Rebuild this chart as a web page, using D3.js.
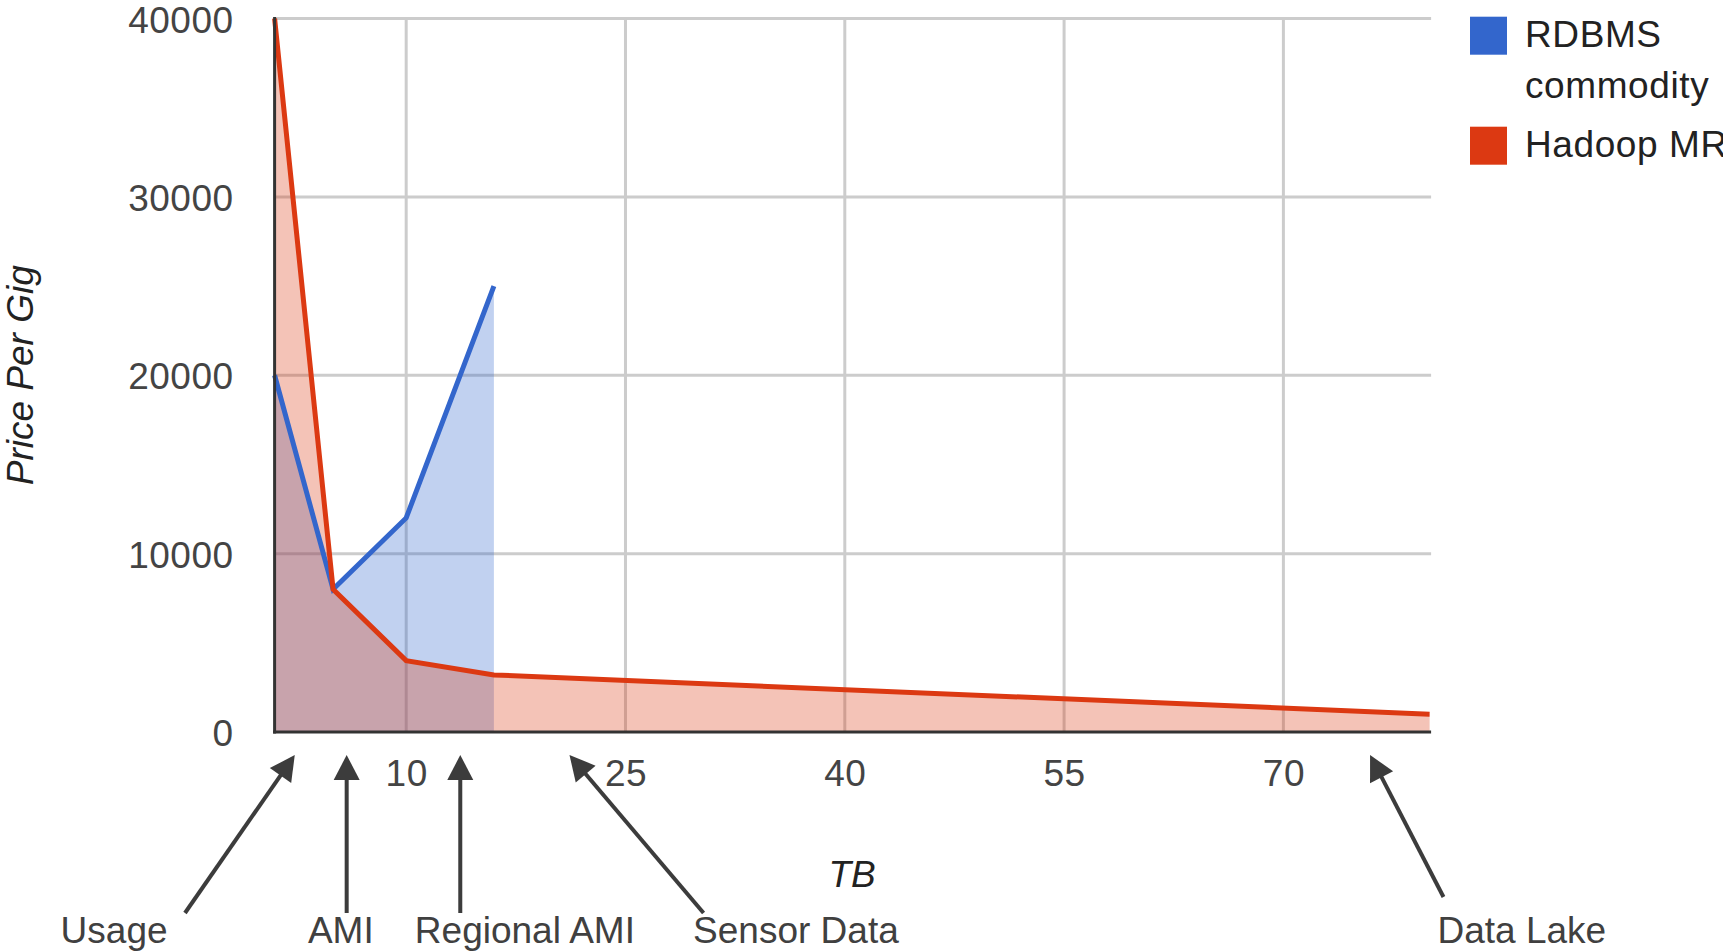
<!DOCTYPE html>
<html>
<head>
<meta charset="utf-8">
<script src="https://cdn.jsdelivr.net/npm/d3@7"></script>
<style>
  body { margin: 0; background: #fff; }
  svg { display: block; font-family: "Liberation Sans", Arial, sans-serif; }
</style>
</head>
<body>
<div id="chart"></div>
<script>
// ---- data ----
const tbValues = [1, 5, 10, 16, 80];                      // TB
const rdbmsValues = [20000, 8000, 12000, 25000, null];    // RDBMS commodity
const hadoopValues = [40000, 8000, 4000, 3200, 1000];     // Hadoop MR
const yTicks = [0, 10000, 20000, 30000, 40000];
const xTicks = [10, 25, 40, 55, 70];
const seriesNames = [["RDBMS", "commodity"], ["Hadoop MR"]];
const seriesColors = ["#3366cc", "#dc3912"];

// call-outs under the x axis (positions in TB units)
const annotationLabels = ["Usage", "AMI", "Regional AMI", "Sensor Data", "Data Lake"];
const annotationTips = [2.38, 5.93, 13.7, 21.17, 75.93];
const annotationTails = [-5.13, 5.93, 13.7, 30.34, 80.95];
const annotationTextAt = [-9.98, 5.53, 18.12, 36.66, 86.31];

class PriceChart {
    constructor(parentId) {
        this.parentElement = document.getElementById(parentId);
        this.width = 1723;
        this.height = 951;
        this.plot = { left: 274.6, right: 1429.6, top: 18.5, bottom: 732 };
        this.initVis();
    }

    initVis() {
        let vis = this;
        vis.svg = d3.select(vis.parentElement).append("svg")
            .attr("width", vis.width)
            .attr("height", vis.height);

        vis.x = d3.scaleLinear().domain([1, 80]).range([vis.plot.left, vis.plot.right]);
        vis.y = d3.scaleLinear().domain([0, 40000]).range([vis.plot.bottom, vis.plot.top]);

        vis.wrangleData();
        vis.updateVis();
    }

    wrangleData() {
        let vis = this;
        vis.series = [rdbmsValues, hadoopValues].map((vals, i) => ({
            name: seriesNames[i],
            color: seriesColors[i],
            points: tbValues.map((tb, j) => ({ tb: tb, v: vals[j] })).filter(d => d.v != null)
        }));
    }

    updateVis() {
        let vis = this;
        const p = vis.plot;

        // gridlines
        vis.svg.append("g").selectAll("line.hgrid")
            .data(yTicks.filter(d => d > 0)).enter().append("line")
            .attr("x1", p.left).attr("x2", p.right + 1.5)
            .attr("y1", d => vis.y(d)).attr("y2", d => vis.y(d))
            .attr("stroke", "#cccccc").attr("stroke-width", 3);
        vis.svg.append("g").selectAll("line.vgrid")
            .data(xTicks).enter().append("line")
            .attr("x1", d => vis.x(d)).attr("x2", d => vis.x(d))
            .attr("y1", p.top).attr("y2", p.bottom)
            .attr("stroke", "#cccccc").attr("stroke-width", 3);

        // areas (blue first, red over it)
        const area = d3.area()
            .x(d => vis.x(d.tb))
            .y0(vis.y(0))
            .y1(d => vis.y(d.v));
        vis.svg.append("g").selectAll("path")
            .data(vis.series).enter().append("path")
            .attr("d", d => area(d.points))
            .attr("fill", d => d.color)
            .attr("fill-opacity", 0.3);

        // lines
        const line = d3.line()
            .x(d => vis.x(d.tb))
            .y(d => vis.y(d.v));
        vis.svg.append("g").selectAll("path")
            .data(vis.series).enter().append("path")
            .attr("d", d => line(d.points))
            .attr("fill", "none")
            .attr("stroke", d => d.color)
            .attr("stroke-width", 5);

        // baselines
        vis.svg.append("line")
            .attr("x1", p.left).attr("x2", p.left)
            .attr("y1", p.top - 1.5).attr("y2", p.bottom + 1.5)
            .attr("stroke", "#333").attr("stroke-width", 3);
        vis.svg.append("line")
            .attr("x1", p.left - 1.5).attr("x2", p.right + 1.5)
            .attr("y1", p.bottom).attr("y2", p.bottom)
            .attr("stroke", "#333").attr("stroke-width", 3);

        // tick labels through d3 axes
        const yAxis = vis.svg.append("g")
            .attr("transform", `translate(${p.left},0)`)
            .call(d3.axisLeft(vis.y).tickValues(yTicks).tickSize(0).tickPadding(41).tickFormat(d3.format("d")));
        const xAxis = vis.svg.append("g")
            .attr("transform", `translate(0,${p.bottom})`)
            .call(d3.axisBottom(vis.x).tickValues(xTicks).tickSize(0).tickPadding(28).tickFormat(d3.format("d")));
        yAxis.selectAll("text").attr("dy", "0.37em");
        [yAxis, xAxis].forEach(ax => {
            ax.select(".domain").remove();
            ax.selectAll("text")
                .attr("font-family", "Liberation Sans, Arial, sans-serif")
                .attr("font-size", 37)
                .attr("letter-spacing", 0.5)
                .attr("fill", "#444");
        });

        // axis titles
        vis.svg.append("text")
            .attr("x", (p.left + p.right) / 2)
            .attr("y", 886.7)
            .attr("text-anchor", "middle")
            .attr("font-size", 37).attr("font-style", "italic")
            .attr("fill", "#222")
            .text("TB");
        vis.svg.append("text")
            .attr("transform", `translate(32.5,${(p.top + p.bottom) / 2}) rotate(-90)`)
            .attr("text-anchor", "middle")
            .attr("font-size", 37).attr("font-style", "italic")
            .attr("fill", "#222")
            .text("Price Per Gig");

        // legend
        const legend = vis.svg.append("g").selectAll("g")
            .data(vis.series).enter().append("g")
            .attr("transform", (d, i) => `translate(1470,${16.7 + i * 110})`);
        legend.append("rect")
            .attr("width", 37).attr("height", 38)
            .attr("fill", d => d.color);
        legend.append("text")
            .attr("font-size", 37)
            .attr("letter-spacing", 0.6)
            .attr("fill", "#222")
            .selectAll("tspan")
            .data(d => d.name).enter().append("tspan")
            .attr("x", 55)
            .attr("y", (d, i) => 30 + i * 51)
            .text(d => d);

        // annotation arrows
        const ink = "#3c3c3c";
        const tipY = p.bottom + 23;
        const tailDrop = [181, 181, 181, 181, 165];
        const notes = annotationLabels.map((label, i) => ({
            label: label,
            tip: [vis.x(annotationTips[i]), tipY],
            tail: [vis.x(annotationTails[i]), p.bottom + tailDrop[i]],
            textX: vis.x(annotationTextAt[i])
        }));
        const headLen = 25, headHalf = 13;
        const g = vis.svg.append("g").selectAll("g").data(notes).enter().append("g");
        g.each(function(d) {
            const sel = d3.select(this);
            const dx = d.tip[0] - d.tail[0], dy = d.tip[1] - d.tail[1];
            const len = Math.hypot(dx, dy);
            const ux = dx / len, uy = dy / len;
            const bx = d.tip[0] - ux * headLen, by = d.tip[1] - uy * headLen;
            sel.append("line")
                .attr("x1", d.tail[0]).attr("y1", d.tail[1])
                .attr("x2", bx + ux * 2).attr("y2", by + uy * 2)
                .attr("stroke", ink).attr("stroke-width", 4);
            sel.append("path")
                .attr("d", `M${d.tip[0]},${d.tip[1]}L${bx - uy * headHalf},${by + ux * headHalf}L${bx + uy * headHalf},${by - ux * headHalf}Z`)
                .attr("fill", ink);
            sel.append("text")
                .attr("x", d.textX)
                .attr("y", p.bottom + 211.3)
                .attr("text-anchor", "middle")
                .attr("font-size", 37)
                .attr("fill", "#404040")
                .text(d.label);
        });
    }
}

new PriceChart("chart");
</script>
</body>
</html>
